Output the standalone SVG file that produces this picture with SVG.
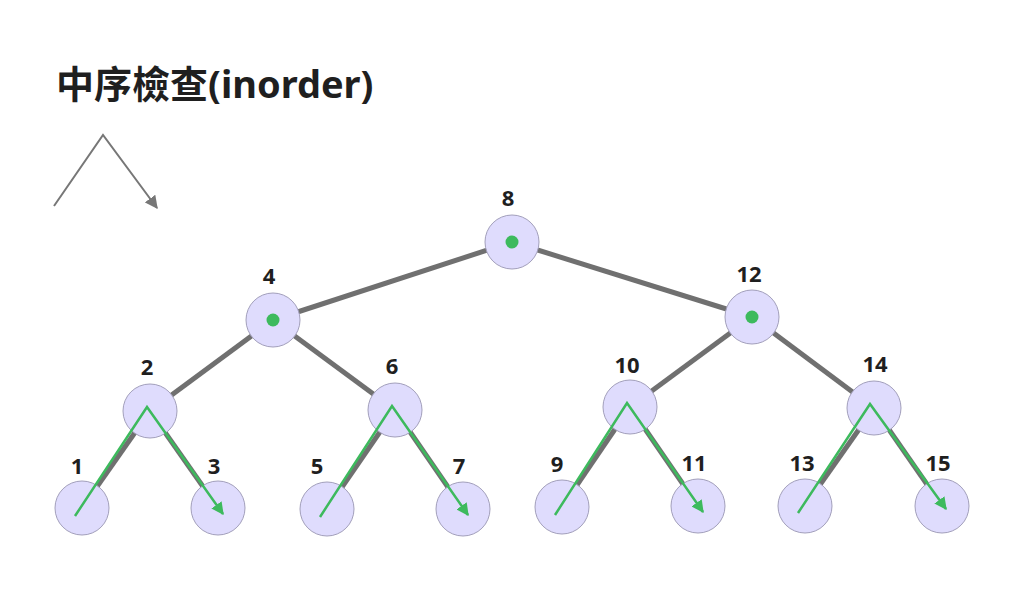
<svg xmlns="http://www.w3.org/2000/svg" width="1024" height="591" viewBox="0 0 1024 591">
<defs>
<marker id="ga" viewBox="0 0 10 10" refX="9" refY="5" markerWidth="5" markerHeight="5" orient="auto" markerUnits="strokeWidth"><path d="M0,0 L10,5 L0,10 z" fill="#3dba5d"/></marker>
<marker id="gr" viewBox="0 0 10 10" refX="9" refY="5" markerWidth="6.5" markerHeight="6.5" orient="auto" markerUnits="strokeWidth"><path d="M0,0 L10,5 L0,10 z" fill="#777"/></marker>
<style>
.e{stroke:#707070;stroke-width:5;fill:none}
.g{stroke:#3dba5d;stroke-width:2.5;fill:none}
.n{fill:#dfdcfd;stroke:#a29fbb;stroke-width:1}
.d{fill:#3dba5d}
.l{font-family:"Noto Sans","Open Sans","DejaVu Sans",sans-serif;font-weight:700;font-size:22px;fill:#1f1f1f;text-anchor:middle}
.t{font-family:"Noto Sans","Noto Sans CJK TC",sans-serif;font-weight:700;font-size:38px;fill:#1f1f1f}
</style>
</defs>
<rect width="1024" height="591" fill="#fff"/>
<text class="t" x="56" y="98">中序檢查(inorder)</text>
<polyline points="54,206 103,135 157,208" fill="none" stroke="#777" stroke-width="2" marker-end="url(#gr)"/>
<g id="edges">
<line class="e" x1="512" y1="242" x2="273" y2="320"/>
<line class="e" x1="512" y1="242" x2="752" y2="317"/>
<line class="e" x1="273" y1="320" x2="150" y2="411"/>
<line class="e" x1="273" y1="320" x2="395" y2="410"/>
<line class="e" x1="752" y1="317" x2="630" y2="407"/>
<line class="e" x1="752" y1="317" x2="874" y2="408"/>
<line class="e" x1="150" y1="411" x2="82" y2="508"/>
<line class="e" x1="150" y1="411" x2="218" y2="508"/>
<line class="e" x1="395" y1="410" x2="327" y2="509"/>
<line class="e" x1="395" y1="410" x2="463" y2="509"/>
<line class="e" x1="630" y1="407" x2="562" y2="507"/>
<line class="e" x1="630" y1="407" x2="698" y2="506"/>
<line class="e" x1="874" y1="408" x2="805" y2="506"/>
<line class="e" x1="874" y1="408" x2="942" y2="506"/>
</g>
<g id="n8"><circle class="n" cx="512" cy="242" r="27"/><circle class="d" cx="512" cy="242" r="6.5"/><text class="l" x="508" y="206">8</text></g>
<g id="n4"><circle class="n" cx="273" cy="320" r="27"/><circle class="d" cx="273" cy="320" r="6.5"/><text class="l" x="269" y="284">4</text></g>
<g id="n12"><circle class="n" cx="752" cy="317" r="27"/><circle class="d" cx="752" cy="317" r="6.5"/><text class="l" x="749" y="282">12</text></g>
<g id="n2"><circle class="n" cx="150" cy="411" r="27"/><text class="l" x="147" y="375">2</text></g>
<g id="n6"><circle class="n" cx="395" cy="410" r="27"/><text class="l" x="392" y="374">6</text></g>
<g id="n10"><circle class="n" cx="630" cy="407" r="27"/><text class="l" x="627" y="373">10</text></g>
<g id="n14"><circle class="n" cx="874" cy="408" r="27"/><text class="l" x="875" y="372">14</text></g>
<g id="n1"><circle class="n" cx="82" cy="508" r="27"/><text class="l" x="77" y="474">1</text></g>
<g id="n3"><circle class="n" cx="218" cy="508" r="27"/><text class="l" x="214" y="474">3</text></g>
<g id="n5"><circle class="n" cx="327" cy="509" r="27"/><text class="l" x="317" y="474">5</text></g>
<g id="n7"><circle class="n" cx="463" cy="509" r="27"/><text class="l" x="459" y="474">7</text></g>
<g id="n9"><circle class="n" cx="562" cy="507" r="27"/><text class="l" x="557" y="472">9</text></g>
<g id="n11"><circle class="n" cx="698" cy="506" r="27"/><text class="l" x="694" y="471">11</text></g>
<g id="n13"><circle class="n" cx="805" cy="506" r="27"/><text class="l" x="802" y="471">13</text></g>
<g id="n15"><circle class="n" cx="942" cy="506" r="27"/><text class="l" x="938" y="471">15</text></g>
<g id="paths">
<polyline class="g" points="75,516 147,407 223,514" marker-end="url(#ga)"/>
<polyline class="g" points="320,517 392,406 468,515" marker-end="url(#ga)"/>
<polyline class="g" points="555,515 627,403 703,512" marker-end="url(#ga)"/>
<polyline class="g" points="798,513 870,404 946,509" marker-end="url(#ga)"/>
</g>
</svg>
